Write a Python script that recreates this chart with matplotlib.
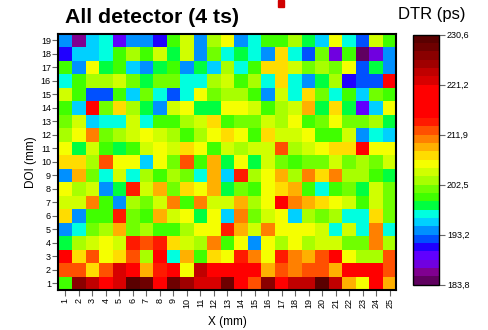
import matplotlib
matplotlib.use('Agg')
import matplotlib.pyplot as plt
import numpy as np
from matplotlib.colors import ListedColormap, BoundaryNorm
from matplotlib.patches import Rectangle

plt.rcParams['font.family'] = ['Liberation Sans', 'DejaVu Sans']

# DTR (ps) per cell, rows from DOI 19 (top) down to DOI 1 (bottom), columns X = 1..25
dtr_rows = [
    [193.9, 186.1, 195.5, 197.1, 189.3, 193.9, 193.9, 190.8, 200.2, 204.9, 193.9, 203.3, 206.4, 193.9, 197.1, 200.2, 200.2, 203.3, 198.6, 195.5, 206.4, 197.1, 192.4, 204.9, 200.2],
    [190.8, 195.5, 195.5, 197.1, 200.2, 203.3, 200.2, 204.9, 198.6, 204.9, 193.9, 201.7, 197.1, 198.6, 197.1, 193.9, 208.0, 197.1, 192.4, 201.7, 187.7, 200.2, 184.6, 187.7, 193.9],
    [200.2, 193.9, 206.4, 198.6, 200.2, 195.5, 193.9, 198.6, 200.2, 193.9, 198.6, 195.5, 203.3, 197.1, 200.2, 208.0, 208.0, 204.9, 201.7, 203.3, 201.7, 206.4, 192.4, 198.6, 193.9],
    [197.1, 200.2, 203.3, 203.3, 204.9, 201.7, 198.6, 201.7, 201.7, 197.1, 197.1, 203.3, 204.9, 200.2, 203.3, 197.1, 208.0, 197.1, 193.9, 198.6, 203.3, 190.8, 192.4, 192.4, 215.8],
    [204.9, 200.2, 192.4, 192.4, 200.2, 195.5, 201.7, 197.1, 192.4, 197.1, 206.4, 201.7, 203.3, 203.3, 200.2, 193.9, 204.9, 197.1, 208.0, 201.7, 197.1, 200.2, 195.5, 201.7, 200.2],
    [200.2, 195.5, 215.8, 201.7, 208.0, 203.3, 198.6, 193.9, 204.9, 206.4, 198.6, 198.6, 206.4, 206.4, 204.9, 200.2, 203.3, 204.9, 209.5, 198.6, 208.0, 198.6, 189.3, 195.5, 206.4],
    [201.7, 204.9, 195.5, 197.1, 197.1, 204.9, 197.1, 200.2, 200.2, 203.3, 204.9, 208.0, 200.2, 201.7, 201.7, 204.9, 203.3, 206.4, 200.2, 201.7, 206.4, 201.7, 201.7, 203.3, 198.6],
    [203.3, 206.4, 211.1, 201.7, 203.3, 204.9, 206.4, 204.9, 203.3, 200.2, 203.3, 206.4, 208.0, 206.4, 200.2, 208.0, 204.9, 204.9, 206.4, 200.2, 200.2, 204.9, 193.9, 197.1, 195.5],
    [206.4, 198.6, 204.9, 200.2, 198.6, 200.2, 204.9, 206.4, 204.9, 208.0, 206.4, 200.2, 204.9, 203.3, 204.9, 204.9, 212.7, 203.3, 204.9, 206.4, 208.0, 208.0, 215.8, 206.4, 206.4],
    [208.0, 208.0, 203.3, 212.7, 206.4, 206.4, 195.5, 206.4, 201.7, 212.7, 200.2, 209.5, 198.6, 206.4, 198.6, 204.9, 201.7, 200.2, 201.7, 201.7, 204.9, 201.7, 203.3, 201.7, 204.9],
    [193.9, 209.5, 201.7, 197.1, 204.9, 197.1, 203.3, 200.2, 203.3, 201.7, 197.1, 209.5, 195.5, 214.2, 203.3, 206.4, 209.5, 203.3, 211.1, 208.0, 211.1, 203.3, 203.3, 200.2, 198.6],
    [206.4, 203.3, 204.9, 193.9, 198.6, 214.2, 204.9, 209.5, 201.7, 208.0, 206.4, 209.5, 198.6, 201.7, 200.2, 206.4, 208.0, 209.5, 200.2, 197.1, 200.2, 201.7, 198.6, 204.9, 201.7],
    [204.9, 204.9, 211.1, 200.2, 193.9, 203.3, 201.7, 204.9, 211.1, 200.2, 211.1, 204.9, 204.9, 209.5, 203.3, 206.4, 215.8, 211.1, 209.5, 208.0, 206.4, 204.9, 200.2, 204.9, 201.7],
    [208.0, 193.9, 200.2, 200.2, 214.2, 201.7, 200.2, 209.5, 204.9, 206.4, 198.6, 206.4, 195.5, 211.1, 201.7, 204.9, 206.4, 195.5, 203.3, 201.7, 203.3, 197.1, 197.1, 208.0, 201.7],
    [193.9, 197.1, 201.7, 203.3, 209.5, 201.7, 203.3, 200.2, 200.2, 203.3, 206.4, 206.4, 214.2, 209.5, 204.9, 211.1, 206.4, 206.4, 206.4, 204.9, 197.1, 204.9, 197.1, 211.1, 197.1],
    [198.6, 203.3, 204.9, 206.4, 204.9, 214.2, 212.7, 214.2, 208.0, 204.9, 203.3, 211.1, 200.2, 206.4, 193.9, 206.4, 203.3, 206.4, 203.3, 204.9, 204.9, 201.7, 201.7, 211.1, 203.3],
    [215.8, 208.0, 212.7, 206.4, 208.0, 212.7, 203.3, 215.8, 197.1, 209.5, 200.2, 208.0, 206.4, 214.2, 211.1, 206.4, 214.2, 211.1, 209.5, 212.7, 215.8, 206.4, 203.3, 203.3, 212.7],
    [212.7, 212.7, 208.0, 212.7, 222.0, 217.4, 209.5, 214.2, 217.4, 206.4, 223.6, 217.4, 217.4, 217.4, 217.4, 209.5, 212.7, 211.1, 212.7, 212.7, 209.5, 218.9, 218.9, 218.9, 212.7],
    [200.2, 226.7, 223.6, 218.9, 222.0, 229.8, 228.3, 218.9, 228.3, 225.1, 222.0, 222.0, 228.3, 215.8, 212.7, 226.7, 218.9, 223.6, 223.6, 229.8, 223.6, 209.5, 206.4, 217.4, 209.5],
]

x_labels = [str(i) for i in range(1, 26)]
y_labels = [str(i) for i in range(1, 20)]

# 30 colour levels between 183.8 and 230.6 ps
level_colors = ['#600060', '#800090', '#7000e0', '#6000ff', '#2000ff', '#0050ff',
                '#0090ff', '#00d0ff', '#00ffe0', '#00ff40', '#40ff00', '#70ff00',
                '#a8ff00', '#d0ff00', '#f5ff00', '#ffdc00', '#ffb000', '#ff8000',
                '#ff5000', '#ff1a00', '#ff0000', '#ff0000', '#ff0000', '#ff0000',
                '#d80000', '#c00000', '#a00000', '#8a0000', '#6e0000', '#5a0000']
vmin, vmax = 183.8, 230.6
cbar_ticks = [183.8, 193.16, 202.52, 211.88, 221.24, 230.6]
cbar_labels = ['183,8', '193,2', '202,5', '211,9', '221,2', '230,6']

data = np.array(dtr_rows)[::-1]  # row 0 = DOI 1
cmap = ListedColormap(level_colors)
norm = BoundaryNorm(np.linspace(vmin, vmax, len(level_colors) + 1), cmap.N)

fig = plt.figure(figsize=(4.89, 3.30), dpi=100)
ax = fig.add_axes([58.5 / 489, 1 - 290 / 330, 338 / 489, 256.5 / 330])
xe = np.arange(len(x_labels) + 1) + 0.5
ye = np.arange(len(y_labels) + 1) + 0.5
mesh = ax.pcolormesh(xe, ye, data, cmap=cmap, norm=norm)
ax.set_xlim(0.5, 25.5)
ax.set_ylim(0.5, 19.5)

ax.set_xticks(np.arange(1, 26))
ax.set_xticklabels(x_labels, rotation=90, fontsize=6.5)
ax.set_yticks(np.arange(1, 20))
ax.set_yticklabels(y_labels, fontsize=6.5)
ax.tick_params(direction='out', length=4, width=0.8, color='#666666', pad=1.5)
for sp in ax.spines.values():
    sp.set_linewidth(1.5)
ax.set_xlabel('X (mm)', fontsize=8.5, labelpad=6)
ax.set_ylabel('DOI (mm)', fontsize=8.5, labelpad=3)

fig.text(65.5 / 489, 1 - 22.7 / 330, 'All detector (4 ts)', fontsize=15.3,
         fontweight='bold', va='baseline', ha='left')
fig.text(398 / 489, 1 - 19.3 / 330, 'DTR (ps)', fontsize=12, va='baseline', ha='left')

cax = fig.add_axes([413.3 / 489, 1 - 284.7 / 330, 26 / 489, 250 / 330])
cb = fig.colorbar(mesh, cax=cax, ticks=cbar_ticks)
cb.ax.set_yticklabels(cbar_labels, fontsize=6.5)
cb.ax.tick_params(direction='out', length=4, width=0.8, color='#666666', pad=1.5)
cb.outline.set_linewidth(1.0)
cb.ax.minorticks_off()

# small red mark cut off at the top edge
fig.patches.append(Rectangle((278 / 489, 1 - 7 / 330), 6 / 489, 7 / 330,
                             transform=fig.transFigure, color='#d00000'))

fig.savefig('out.png', dpi=100)
